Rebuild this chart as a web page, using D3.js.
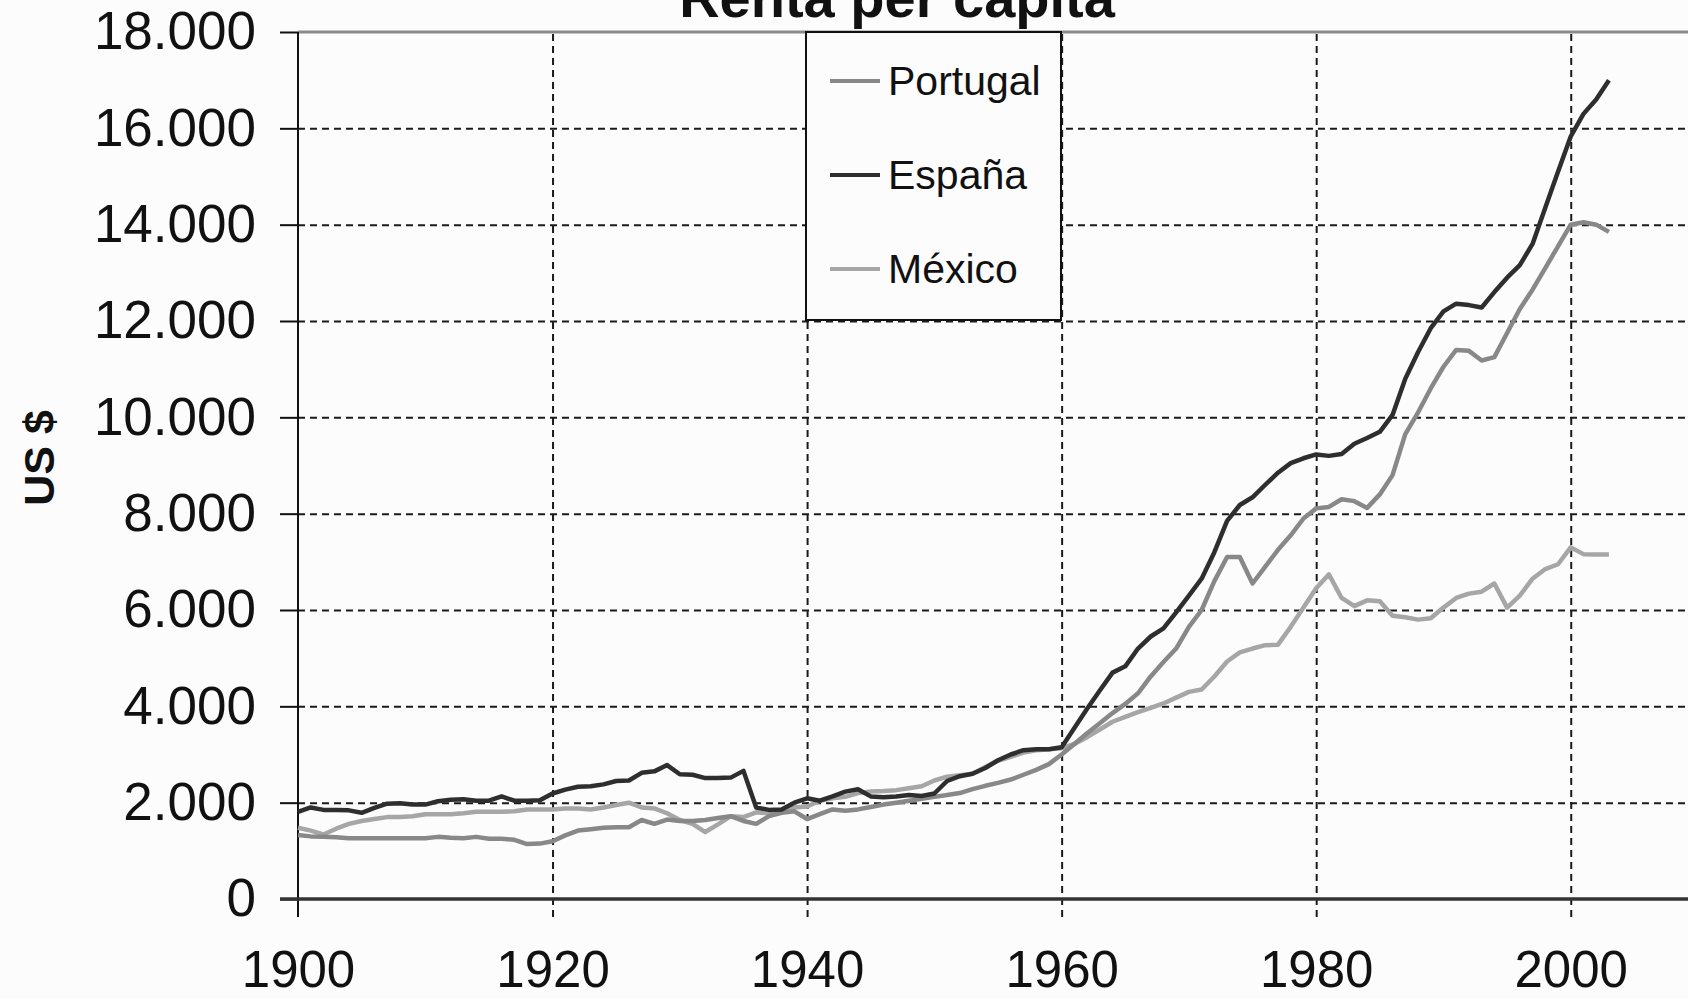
<!DOCTYPE html>
<html><head><meta charset="utf-8">
<script src="https://cdnjs.cloudflare.com/ajax/libs/d3/7.8.5/d3.min.js"></script>
<style>html,body{margin:0;padding:0;background:#fcfcfc;overflow:hidden}svg{display:block}</style>
</head><body>
<script>
const years = d3.range(1900, 2004);
const portugal = [1330,1300,1290,1280,1260,1260,1260,1260,1260,1260,
1260,1290,1270,1260,1290,1250,1250,1230,1140,1150,
1200,1320,1420,1450,1480,1490,1490,1640,1560,1650,
1620,1620,1640,1680,1720,1620,1560,1720,1790,1820,
1660,1760,1860,1830,1860,1910,1960,2000,2040,2080,
2120,2160,2200,2280,2350,2410,2480,2580,2680,2800,
3000,3220,3440,3650,3860,4050,4270,4620,4920,5200,
5650,6000,6600,7100,7100,6550,6900,7250,7550,7900,
8110,8140,8300,8260,8120,8400,8800,9650,10100,10600,
11050,11400,11380,11180,11250,11750,12250,12650,13100,13550,
14000,14050,14000,13850];
const espana = [1810,1900,1850,1850,1840,1790,1890,1980,1990,1960,
1960,2030,2060,2070,2040,2040,2130,2040,2040,2050,
2190,2270,2330,2340,2380,2450,2460,2620,2650,2780,
2590,2580,2510,2510,2520,2660,1900,1850,1860,2000,
2090,2040,2130,2230,2280,2130,2110,2130,2160,2140,
2190,2450,2550,2600,2720,2880,3000,3090,3110,3110,
3150,3550,3950,4330,4700,4830,5200,5450,5620,5950,
6300,6650,7200,7850,8180,8340,8600,8850,9050,9150,
9230,9200,9240,9450,9570,9700,10050,10800,11350,11850,
12200,12360,12330,12280,12600,12900,13160,13600,14350,15100,
15830,16300,16600,17000];
const mexico = [1480,1420,1340,1460,1560,1620,1660,1700,1700,1720,
1760,1760,1760,1780,1810,1810,1810,1820,1860,1860,
1860,1880,1880,1860,1900,1950,2000,1900,1880,1780,
1640,1560,1390,1550,1720,1700,1800,1780,1820,1900,
1920,2040,2090,2120,2200,2230,2240,2260,2300,2340,
2460,2540,2570,2600,2740,2870,2950,3040,3090,3110,
3130,3220,3360,3520,3680,3780,3880,3970,4060,4180,
4300,4350,4620,4930,5120,5200,5270,5280,5650,6050,
6450,6740,6250,6080,6200,6180,5880,5850,5800,5830,
6050,6250,6340,6380,6550,6050,6300,6650,6850,6950,
7300,7160,7150,7150];
const seriesNames = ["Portugal","España","México"];
const xTicks = [1900,1920,1940,1960,1980,2000];
const yTicks = [0,2000,4000,6000,8000,10000,12000,14000,16000,18000];
const titleText = "Renta per capita";
const yTitle = "US $";

const W = 1688, H = 999;
const svg = d3.select("body").append("svg").attr("width", W).attr("height", H);
svg.append("rect").attr("width", W).attr("height", H).attr("fill", "#fcfcfc");

const x = d3.scaleLinear().domain([1900, 2010]).range([298, 1698]);
const y = d3.scaleLinear().domain([0, 18000]).range([899, 32]);
const loc = d3.formatLocale({decimal: ",", thousands: ".", grouping: [3], currency: ["", ""]});
const fmt = loc.format(",d");
const FONT = "'Liberation Sans', Arial, sans-serif";

// horizontal gridlines
const gy = svg.append("g").attr("transform", "translate(298,0)")
  .call(d3.axisLeft(y).tickValues(yTicks.filter(v => v > 0 && v < 18000)).tickSize(-(W - 298)).tickFormat(""));
gy.select(".domain").remove();
gy.selectAll("line").attr("stroke", "#1a1a1a").attr("stroke-width", 2).attr("stroke-dasharray", "7,5");

// vertical gridlines (extend below axis as ticks)
const gx = svg.append("g").attr("transform", "translate(0,917)")
  .call(d3.axisBottom(x).tickValues(xTicks.filter(v => v > 1900)).tickSize(-(917 - 32)).tickFormat(""));
gx.select(".domain").remove();
gx.selectAll("line").attr("stroke", "#1a1a1a").attr("stroke-width", 2).attr("stroke-dasharray", "7,5");

// top line at 18000
svg.append("line").attr("x1", 298).attr("x2", W).attr("y1", y(18000)).attr("y2", y(18000))
  .attr("stroke", "#8a8a8a").attr("stroke-width", 3);

// y axis with labels
const ya = svg.append("g").attr("transform", "translate(298,0)")
  .call(d3.axisLeft(y).tickValues(yTicks).tickSize(18).tickPadding(24).tickFormat(fmt));
ya.select(".domain").remove();
ya.selectAll("line").attr("stroke", "#111").attr("stroke-width", 2);
ya.selectAll("text").attr("font-family", FONT).attr("font-size", 53).attr("fill", "#111");

// y axis line
svg.append("line").attr("x1", 298).attr("x2", 298).attr("y1", 32).attr("y2", 917)
  .attr("stroke", "#111").attr("stroke-width", 2);
// zero line
svg.append("line").attr("x1", 280).attr("x2", W).attr("y1", y(0)).attr("y2", y(0))
  .attr("stroke", "#333").attr("stroke-width", 3.5);

// x labels
const xa = svg.append("g").attr("transform", "translate(0,899)")
  .call(d3.axisBottom(x).tickValues(xTicks).tickSize(0).tickPadding(0).tickFormat(d3.format("d")));
xa.select(".domain").remove();
xa.selectAll("text").attr("font-family", FONT).attr("font-size", 51).attr("fill", "#111")
  .attr("dy", null).attr("y", 88);

// title
svg.append("text").attr("x", 897).attr("y", 17).attr("text-anchor", "middle")
  .attr("font-family", FONT).attr("font-weight", "bold").attr("font-size", 56).attr("fill", "#111")
  .text(titleText);
// y title
svg.append("text").attr("transform", "translate(54,458) rotate(-90)").attr("text-anchor", "middle")
  .attr("font-family", FONT).attr("font-weight", "bold").attr("font-size", 43).attr("fill", "#111")
  .text(yTitle);

// legend box
const lg = svg.append("g");
lg.append("rect").attr("x", 806).attr("y", 32).attr("width", 255).attr("height", 288)
  .attr("fill", "#fcfcfc").attr("stroke", "#111").attr("stroke-width", 2);

// lines
const colors = {"Portugal": "#888888", "España": "#2e2e2e", "México": "#a6a6a6"};
const dataMap = {"Portugal": portugal, "España": espana, "México": mexico};
const line = d3.line().x((d, i) => x(years[i])).y(d => y(d));
["México", "Portugal", "España"].forEach(n => {
  svg.append("path").datum(dataMap[n]).attr("d", line).attr("fill", "none")
    .attr("stroke", colors[n]).attr("stroke-width", 4.5).attr("stroke-linejoin", "round");
});

const legY = [81, 175, 269];
seriesNames.forEach((n, i) => {
  lg.append("line").attr("x1", 830).attr("x2", 880).attr("y1", legY[i]).attr("y2", legY[i])
    .attr("stroke", colors[n]).attr("stroke-width", 4);
  lg.append("text").attr("x", 888).attr("y", legY[i]).attr("dy", "0.35em")
    .attr("font-family", FONT).attr("font-size", 41).attr("fill", "#111").text(n);
});
</script>
</body></html>
